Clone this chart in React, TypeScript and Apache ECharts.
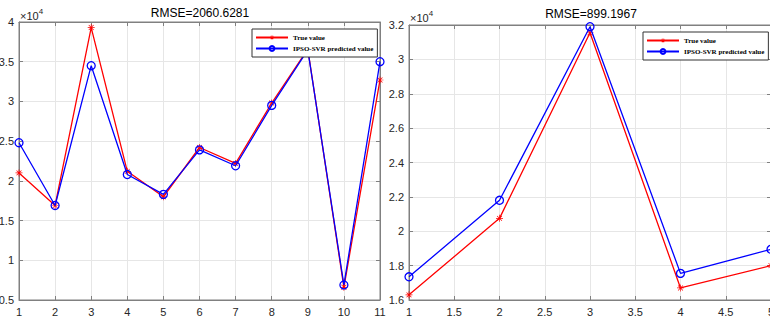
import React, { useEffect, useRef } from "react";
import * as echarts from "echarts";

// Left panel (samples 1..11)
const leftSamples = [1, 2, 3, 4, 5, 6, 7, 8, 9, 10, 11];
const leftTrue = [21000, 16900, 39300, 21200, 18000, 24200, 22200, 29800, 36600, 6600, 32700];
const leftPred = [24800, 16900, 34500, 20800, 18300, 23900, 21900, 29500, 36500, 6900, 35000];
const leftTitle = "RMSE=2060.6281";

// Right panel (samples 1..5)
const rightSamples = [1, 2, 3, 4, 5];
const rightTrue = [16300, 20750, 31550, 16700, 18000];
const rightPred = [17350, 21800, 31900, 17550, 18950];
const rightTitle = "RMSE=899.1967";

const seriesNames = ["True value", "IPSO-SVR predicted value"];

const ASTERISK =
  "path://M0 9H20V11H0Z M9 0H11V20H9Z M3.7 2.3L17.7 16.3L16.3 17.7L2.3 3.7Z M16.3 2.3L17.7 3.7L3.7 17.7L2.3 16.3Z";

const AXIS_COLOR = "#808080";
const GRID_COLOR = "#e6e6e6";
const LABEL_COLOR = "#262626";
const SANS = "'Liberation Sans', Arial, sans-serif";
const SERIF = "'Liberation Serif', 'Times New Roman', serif";

function pairs(xs: number[], ys: number[]) {
  return xs.map((x, i) => [x, ys[i]]);
}

function xAxisCfg(gridIndex: number, min: number, max: number, interval: number, top = false) {
  return {
    type: "value" as const,
    gridIndex,
    min,
    max,
    interval,
    position: top ? ("top" as const) : ("bottom" as const),
    axisLine: { show: true, lineStyle: { color: AXIS_COLOR, width: 1 } },
    axisTick: { show: true, inside: true, length: 4, lineStyle: { color: AXIS_COLOR } },
    splitLine: { show: !top, lineStyle: { color: GRID_COLOR, width: 1 } },
    axisLabel: { show: !top, color: LABEL_COLOR, fontSize: 11, fontFamily: SANS, margin: 6, showMaxLabel: true, showMinLabel: true },
  };
}

function yAxisCfg(gridIndex: number, min: number, max: number, interval: number, right = false) {
  return {
    type: "value" as const,
    gridIndex,
    min,
    max,
    interval,
    position: right ? ("right" as const) : ("left" as const),
    axisLine: { show: true, lineStyle: { color: AXIS_COLOR, width: 1 } },
    axisTick: { show: true, inside: true, length: 4, lineStyle: { color: AXIS_COLOR } },
    splitLine: { show: !right, lineStyle: { color: GRID_COLOR, width: 1 } },
    axisLabel: {
      show: !right,
      color: LABEL_COLOR,
      fontSize: 11,
      fontFamily: SANS,
      margin: 5,
      formatter: (v: number) => String(Math.round((v / 10000) * 100) / 100),
    },
  };
}

function trueSeries(xIdx: number, yIdx: number, data: number[][]) {
  return {
    name: seriesNames[0],
    type: "line" as const,
    xAxisIndex: xIdx,
    yAxisIndex: yIdx,
    data,
    symbol: ASTERISK,
    symbolSize: 7,
    lineStyle: { color: "#ff0000", width: 1.3 },
    itemStyle: { color: "#ff0000" },
    z: 3,
  };
}

function predSeries(xIdx: number, yIdx: number, data: number[][]) {
  return {
    name: seriesNames[1],
    type: "line" as const,
    xAxisIndex: xIdx,
    yAxisIndex: yIdx,
    data,
    symbol: "circle",
    symbolSize: 8,
    lineStyle: { color: "#0000ff", width: 1.3 },
    itemStyle: { color: "rgba(0,0,0,0)", borderColor: "#0000ff", borderWidth: 1.3 },
    z: 4,
  };
}

function legendCfg(left: number, top: number) {
  return {
    left,
    top,
    orient: "vertical" as const,
    data: seriesNames,
    itemWidth: 32,
    itemHeight: 6,
    itemGap: 4,
    padding: [5, 4, 5, 3],
    borderColor: "#333",
    borderWidth: 1,
    backgroundColor: "#fff",
    borderRadius: 0,
    selectedMode: false,
    z: 20,
    textStyle: { fontFamily: SERIF, fontWeight: "bold" as const, fontSize: 7, color: "#000" },
  };
}

function exponentLabel(x: number, y: number) {
  return {
    type: "text" as const,
    x,
    y,
    style: {
      text: "{a|×10}{b|4}",
      rich: {
        a: { fontSize: 11, fontFamily: SANS, fill: LABEL_COLOR, verticalAlign: "bottom" },
        b: { fontSize: 8, fontFamily: SANS, fill: LABEL_COLOR, verticalAlign: "top", padding: [0, 0, 6, 0] },
      },
      textVerticalAlign: "middle",
    },
    z: 10,
  };
}

export default function App() {
  const ref = useRef<HTMLDivElement>(null);
  useEffect(() => {
    if (!ref.current) return;
    const chart = echarts.init(ref.current, undefined, { renderer: "svg" });
    chart.setOption({
      animation: false,
      backgroundColor: "#fff",
      grid: [
        { left: 19, top: 22, width: 361, height: 278, show: true, borderColor: AXIS_COLOR, borderWidth: 1, backgroundColor: "transparent", outerBoundsMode: "none", containLabel: false },
        { left: 409, top: 25, width: 362, height: 275, show: true, borderColor: AXIS_COLOR, borderWidth: 1, backgroundColor: "transparent", outerBoundsMode: "none", containLabel: false },
      ],
      xAxis: [
        xAxisCfg(0, 1, 11, 1),
        xAxisCfg(1, 1, 5, 0.5),
        xAxisCfg(0, 1, 11, 1, true),
        xAxisCfg(1, 1, 5, 0.5, true),
      ],
      yAxis: [
        yAxisCfg(0, 5000, 40000, 5000),
        yAxisCfg(1, 16000, 32000, 2000),
        yAxisCfg(0, 5000, 40000, 5000, true),
        yAxisCfg(1, 16000, 32000, 2000, true),
      ],
      legend: [legendCfg(252, 29), legendCfg(643, 32)],
      series: [
        trueSeries(0, 0, pairs(leftSamples, leftTrue)),
        predSeries(0, 0, pairs(leftSamples, leftPred)),
        trueSeries(1, 1, pairs(rightSamples, rightTrue)),
        predSeries(1, 1, pairs(rightSamples, rightPred)),
      ],
      graphic: [
        {
          type: "text",
          x: 200,
          y: 13,
          style: { text: leftTitle, fontSize: 12, fontFamily: SANS, fill: "#000", textAlign: "center", textVerticalAlign: "middle" },
        },
        {
          type: "text",
          x: 591,
          y: 14,
          style: { text: rightTitle, fontSize: 12, fontFamily: SANS, fill: "#000", textAlign: "center", textVerticalAlign: "middle" },
        },
        exponentLabel(20, 14),
        exponentLabel(410, 16),
      ],
    });
    return () => chart.dispose();
  }, []);
  return (
    <div
      ref={ref}
      style={{ position: "fixed", left: 0, top: 0, width: 770, height: 321, background: "#fff" }}
    />
  );
}
